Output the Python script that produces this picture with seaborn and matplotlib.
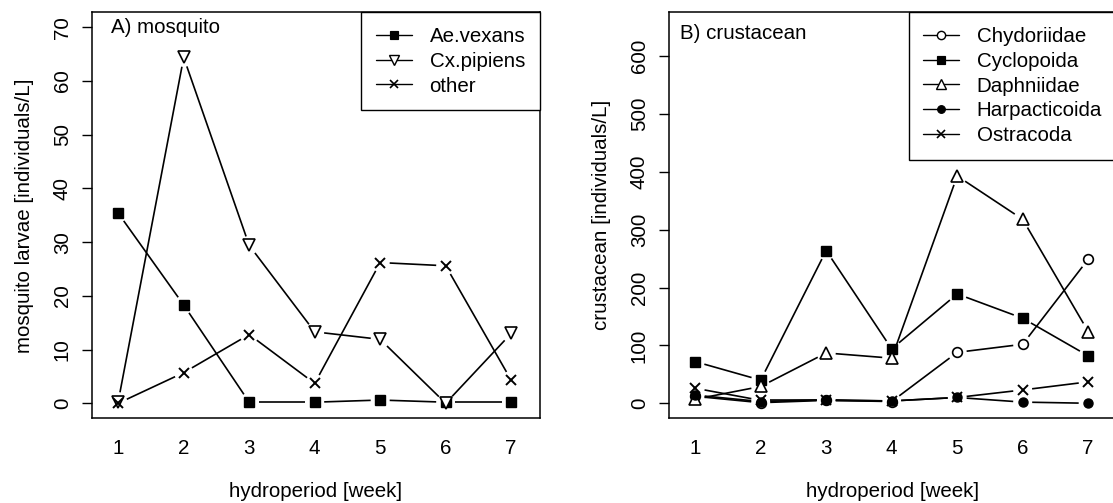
import numpy as np
import pandas as pd
import matplotlib
matplotlib.use("Agg")
import matplotlib.pyplot as plt
from matplotlib.lines import Line2D
import seaborn as sns

weeks = [1, 2, 3, 4, 5, 6, 7]

# mosquito larvae [individuals/L]
ae_vexans = [35.4, 18.3, 0.2, 0.2, 0.6, 0.2, 0.2]
cx_pipiens = [0.3, 64.4, 29.4, 13.3, 11.9, 0.0, 13.0]
other = [0.0, 5.7, 12.8, 3.7, 26.2, 25.6, 4.3]

# crustaceans [individuals/L]
chydoriidae = [12, 1, 5, 3, 88, 102, 249]
cyclopoida = [72, 40, 264, 94, 189, 147, 82]
daphniidae = [7, 29, 87, 78, 393, 318, 124]
harpacticoida = [14, 3, 6, 4, 10, 2, 0]
ostracoda = [26, 5, 5, 4, 10, 23, 37]

mosquito_names = ["Ae.vexans", "Cx.pipiens", "other"]
crustacean_names = ["Chydoriidae", "Cyclopoida", "Daphniidae", "Harpacticoida", "Ostracoda"]

sns.set_theme(style="white")
plt.rcParams["font.family"] = ["Liberation Sans", "DejaVu Sans"]
plt.rcParams["text.color"] = "black"
plt.rcParams["axes.labelcolor"] = "black"
plt.rcParams["xtick.color"] = "black"
plt.rcParams["ytick.color"] = "black"

FS = 14.8
DPI = 100
W, H = 1113, 503

# marker styles (R-like pch symbols)
STY = {
    "Ae.vexans": dict(marker="s", ms=7.0, mfc="black", mew=1.0),
    "Cx.pipiens": dict(marker="v", ms=9.0, mfc="white", mew=1.2),
    "other": dict(marker="x", ms=7.5, mfc="none", mew=1.4),
    "Chydoriidae": dict(marker="o", ms=7.0, mfc="white", mew=1.2),
    "Cyclopoida": dict(marker="s", ms=7.0, mfc="black", mew=1.0),
    "Daphniidae": dict(marker="^", ms=9.0, mfc="white", mew=1.2),
    "Harpacticoida": dict(marker="o", ms=6.5, mfc="black", mew=1.0),
    "Ostracoda": dict(marker="x", ms=7.5, mfc="none", mew=1.4),
}

fig = plt.figure(figsize=(W / DPI, H / DPI), dpi=DPI)
ax_w = 448 / W
ax_h = (418.3 - 12.3) / H
ax_b = (H - 418.3) / H
ax_a = fig.add_axes([92 / W, ax_b, ax_w, ax_h])
ax_c = fig.add_axes([669 / W, ax_b, ax_w, ax_h])

XLIM = (0.6, 7.44)


def gapped_line(ax, x, y, gap_px=9.5, lw=1.2):
    """Connect points like R's type='b': segments stop short of each marker."""
    pts = ax.transData.transform(np.column_stack([x, y]))
    inv = ax.transData.inverted()
    for p, q in zip(pts[:-1], pts[1:]):
        d = q - p
        L = np.hypot(*d)
        if L <= 2 * gap_px:
            continue
        u = d / L
        a, b = inv.transform(np.vstack([p + u * gap_px, q - u * gap_px]))
        ax.plot([a[0], b[0]], [a[1], b[1]], color="black", lw=lw,
                solid_capstyle="butt", zorder=2)


def draw_panel(ax, names, series, ylim, yticks, ylabel, title, title_dx, title_y):
    ax.set_xlim(*XLIM)
    ax.set_ylim(*ylim)
    df = pd.DataFrame({"week": np.tile(weeks, len(names)),
                       "value": np.concatenate(series),
                       "group": np.repeat(names, len(weeks))})
    for name in names:
        sub = df[df["group"] == name]
        gapped_line(ax, sub["week"].to_numpy(), sub["value"].to_numpy())
        st = STY[name]
        sns.lineplot(data=sub, x="week", y="value", ax=ax, color="black",
                     linewidth=0, marker=st["marker"], markersize=st["ms"],
                     markerfacecolor=st["mfc"], markeredgecolor="black",
                     markeredgewidth=st["mew"], errorbar=None, legend=False,
                     zorder=3)
    ax.set_xticks(weeks)
    ax.set_xticklabels([str(w) for w in weeks])
    ax.set_yticks(yticks)
    ax.set_yticklabels([str(t) for t in yticks])
    ax.tick_params(axis="x", length=0, pad=15, labelsize=FS)
    ax.tick_params(axis="y", length=7.5, width=1.0, pad=7, labelsize=FS,
                   labelrotation=90, left=True, direction="out")
    for lab in ax.get_yticklabels():
        lab.set_verticalalignment("center")
    for sp in ax.spines.values():
        sp.set_visible(True)
        sp.set_color("black")
        sp.set_linewidth(1.1)
    ax.set_xlabel("hydroperiod [week]", fontsize=FS, labelpad=17)
    ax.set_ylabel(ylabel, fontsize=FS)
    ax.yaxis.set_label_coords(-69 / 448 + 0.024, 0.5)
    ax.text(title_dx / 448, title_y, title, transform=ax.transAxes,
            fontsize=FS, ha="left", va="baseline")

    handles = []
    for name in names:
        st = STY[name]
        handles.append(Line2D([], [], color="black", lw=1.0, marker=st["marker"],
                              ms=st["ms"] * 0.85, mfc=st["mfc"], mec="black",
                              mew=st["mew"] * 0.85))
    leg = ax.legend(handles, names, loc="upper right", bbox_to_anchor=(1, 1),
                    borderaxespad=0, frameon=True, fancybox=False,
                    edgecolor="black", framealpha=1, fontsize=FS,
                    handlelength=1.75, handletextpad=0.85, labelspacing=0.28,
                    borderpad=0.72)
    leg.get_frame().set_linewidth(1.0)


draw_panel(ax_a, mosquito_names, [ae_vexans, cx_pipiens, other],
           (-2.8, 72.8), [0, 10, 20, 30, 40, 50, 60, 70],
           "mosquito larvae [individuals/L]", "A) mosquito", 18.7,
           1 - (33 - 12.3) / 406)
draw_panel(ax_c, crustacean_names,
           [chydoriidae, cyclopoida, daphniidae, harpacticoida, ostracoda],
           (-26, 676), [0, 100, 200, 300, 400, 500, 600],
           "crustacean [individuals/L]", "B) crustacean", 11,
           1 - (39 - 12.3) / 406)

fig.savefig("out.png", dpi=DPI, facecolor="white")
